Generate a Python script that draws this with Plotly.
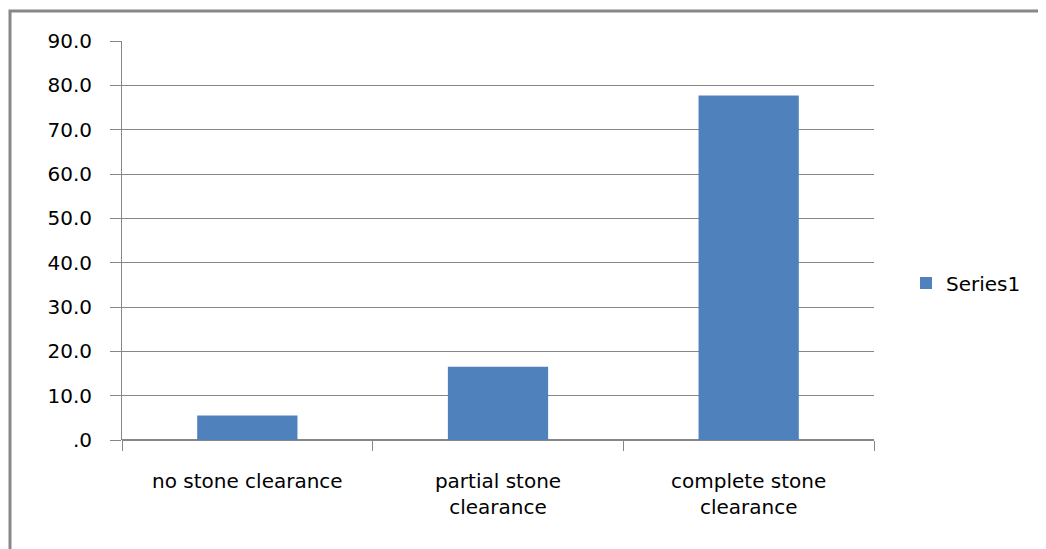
import plotly.graph_objects as go

categories = ["no stone clearance", "partial stone<br>clearance", "complete stone<br>clearance"]
values = [5.5, 16.5, 77.7]
series_name = "Series1"
y_tick_vals = [0, 10, 20, 30, 40, 50, 60, 70, 80, 90]
y_tick_text = [".0", "10.0", "20.0", "30.0", "40.0", "50.0", "60.0", "70.0", "80.0", "90.0"]

# page has an 8px body margin; work in page pixel coordinates
OFF = 8
W, H = 1046 - OFF, 549 - OFF
PL, PR, PT, PB = 122, 874, 41, 440  # plot area in page pixels
L = PL - OFF
T = PT - OFF
R = W - (PR - OFF)
B = H - (PB - OFF)
pw, ph = PR - PL, PB - PT

def px_x(px):
    return (px - PL) / pw

def px_y(py):
    return (PB - py) / ph

fig = go.Figure()
fig.add_trace(go.Bar(
    x=categories, y=values, name=series_name,
    marker=dict(color="#4F81BD", line=dict(width=0)),
    showlegend=True,
))

fig.update_layout(
    width=W, height=H,
    margin=dict(l=L, r=R, t=T, b=B, autoexpand=False),
    paper_bgcolor="white", plot_bgcolor="white",
    bargap=0.6,
    font=dict(family="DejaVu Sans", size=18, color="#000000"),
    showlegend=True,
    legend=dict(x=px_x(906), y=px_y(283), xanchor="left", yanchor="middle",
                bgcolor="rgba(0,0,0,0)", font=dict(size=20, family="DejaVu Sans")),
    xaxis=dict(
        showgrid=False, showline=False, zeroline=False,
        ticks="outside", ticklen=10, tickcolor="#868686", tickwidth=1,
        tickson="boundaries", ticklabelstandoff=27,
        tickfont=dict(size=20),
    ),
    yaxis=dict(
        range=[0, 90], tickvals=y_tick_vals, ticktext=y_tick_text,
        showgrid=True, gridcolor="#868686", gridwidth=1,
        showline=True, linecolor="#868686", linewidth=1,
        zeroline=True, zerolinecolor="#868686", zerolinewidth=2,
        ticks="outside", ticklen=11, tickcolor="#868686", tickwidth=1,
        ticklabelstandoff=14,
        tickfont=dict(size=20),
    ),
    shapes=[dict(
        type="rect", xref="paper", yref="paper",
        x0=px_x(10), x1=px_x(1070), y0=px_y(580), y1=px_y(11),
        line=dict(color="#878787", width=3), fillcolor="rgba(0,0,0,0)", layer="above",
    )],
)

fig.write_html("out.html")
